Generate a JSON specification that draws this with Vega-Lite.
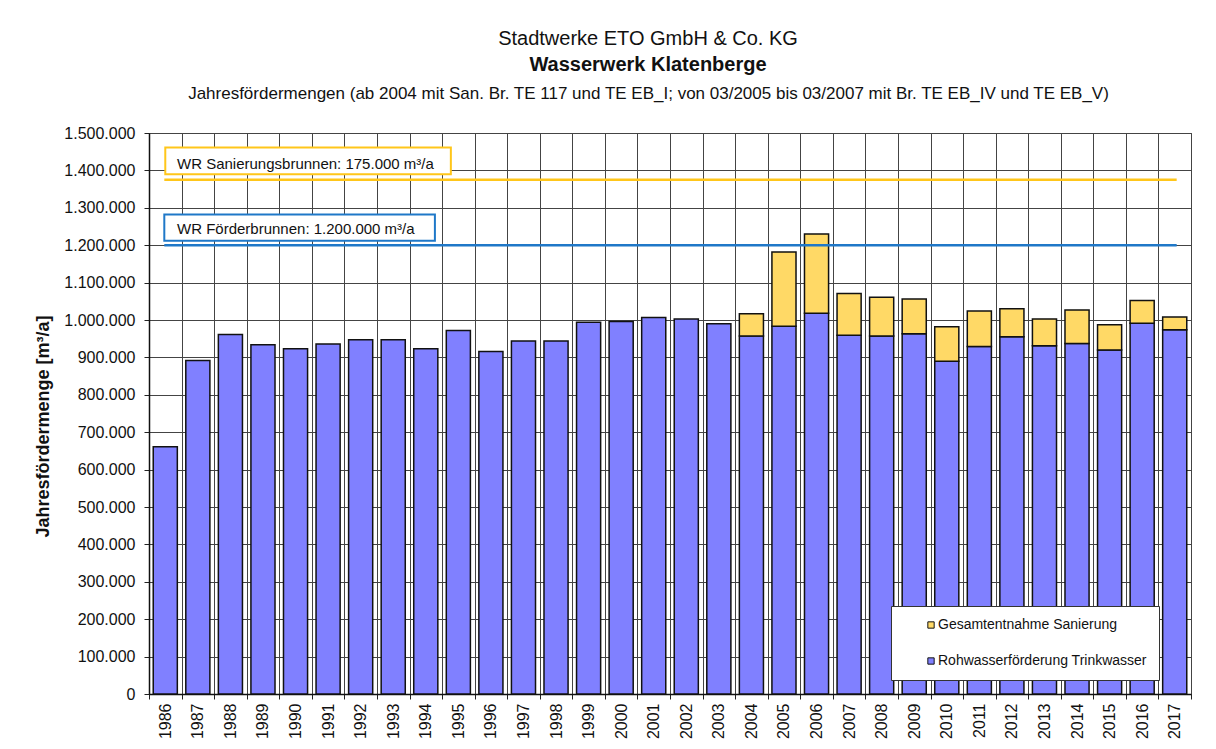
{
  "$schema": "https://vega.github.io/schema/vega-lite/v6.json",
  "autosize": {"type": "none"},
  "padding": {"left": 149, "top": 133, "right": 25, "bottom": 55},
  "width": 1042,
  "height": 561,
  "background": "white",
  "config": {
    "font": "Liberation Sans",
    "view": {"stroke": "#333333", "strokeWidth": 1},
    "locale": {"number": {"decimal": ",", "thousands": ".", "grouping": [3], "currency": ["", " €"]}},
    "axisY": {
      "tickCount": 15, "format": ",d", "labelFontSize": 16, "labelColor": "#111111", "labelPadding": 9,
      "labelOverlap": false, "labelFlush": false, "labelBound": false,
      "tickSize": 5, "tickColor": "#222222", "grid": true, "gridColor": "#444444", "gridWidth": 1,
      "domainColor": "#111111", "domainWidth": 1.5,
      "titleFontSize": 18, "titleFontWeight": "bold", "titleColor": "#111111", "titlePadding": 11, "titleY": 293
    }
  },
  "title": {
    "text": "Stadtwerke ETO GmbH & Co. KG",
    "subtitle": "Wasserwerk Klatenberge",
    "fontSize": 20,
    "fontWeight": "normal",
    "color": "#111111",
    "subtitleFontSize": 20,
    "subtitleFontWeight": "bold",
    "subtitleColor": "#111111",
    "subtitlePadding": 6,
    "anchor": "middle",
    "frame": "group",
    "dx": -22,
    "offset": 9
  },
  "resolve": {"scale": {"x": "independent"}},
  "layer": [
    {
      "data": {"values": [
        {"year": "1986", "series": "Rohwasserförderung Trinkwasser", "value": 661000},
        {"year": "1987", "series": "Rohwasserförderung Trinkwasser", "value": 892000},
        {"year": "1988", "series": "Rohwasserförderung Trinkwasser", "value": 961000},
        {"year": "1989", "series": "Rohwasserförderung Trinkwasser", "value": 934000},
        {"year": "1990", "series": "Rohwasserförderung Trinkwasser", "value": 923000},
        {"year": "1991", "series": "Rohwasserförderung Trinkwasser", "value": 936000},
        {"year": "1992", "series": "Rohwasserförderung Trinkwasser", "value": 947000},
        {"year": "1993", "series": "Rohwasserförderung Trinkwasser", "value": 947000},
        {"year": "1994", "series": "Rohwasserförderung Trinkwasser", "value": 923000},
        {"year": "1995", "series": "Rohwasserförderung Trinkwasser", "value": 972000},
        {"year": "1996", "series": "Rohwasserförderung Trinkwasser", "value": 916000},
        {"year": "1997", "series": "Rohwasserförderung Trinkwasser", "value": 944000},
        {"year": "1998", "series": "Rohwasserförderung Trinkwasser", "value": 944000},
        {"year": "1999", "series": "Rohwasserförderung Trinkwasser", "value": 994000},
        {"year": "2000", "series": "Rohwasserförderung Trinkwasser", "value": 996000},
        {"year": "2001", "series": "Rohwasserförderung Trinkwasser", "value": 1007000},
        {"year": "2002", "series": "Rohwasserförderung Trinkwasser", "value": 1003000},
        {"year": "2003", "series": "Rohwasserförderung Trinkwasser", "value": 990000},
        {"year": "2004", "series": "Rohwasserförderung Trinkwasser", "value": 957000},
        {"year": "2005", "series": "Rohwasserförderung Trinkwasser", "value": 983000},
        {"year": "2006", "series": "Rohwasserförderung Trinkwasser", "value": 1018000},
        {"year": "2007", "series": "Rohwasserförderung Trinkwasser", "value": 959000},
        {"year": "2008", "series": "Rohwasserförderung Trinkwasser", "value": 957000},
        {"year": "2009", "series": "Rohwasserförderung Trinkwasser", "value": 963000},
        {"year": "2010", "series": "Rohwasserförderung Trinkwasser", "value": 890000},
        {"year": "2011", "series": "Rohwasserförderung Trinkwasser", "value": 929000},
        {"year": "2012", "series": "Rohwasserförderung Trinkwasser", "value": 955000},
        {"year": "2013", "series": "Rohwasserförderung Trinkwasser", "value": 931000},
        {"year": "2014", "series": "Rohwasserförderung Trinkwasser", "value": 937000},
        {"year": "2015", "series": "Rohwasserförderung Trinkwasser", "value": 920000},
        {"year": "2016", "series": "Rohwasserförderung Trinkwasser", "value": 991000},
        {"year": "2017", "series": "Rohwasserförderung Trinkwasser", "value": 974000},
        {"year": "2004", "series": "Gesamtentnahme Sanierung", "value": 60000},
        {"year": "2005", "series": "Gesamtentnahme Sanierung", "value": 199000},
        {"year": "2006", "series": "Gesamtentnahme Sanierung", "value": 212000},
        {"year": "2007", "series": "Gesamtentnahme Sanierung", "value": 112000},
        {"year": "2008", "series": "Gesamtentnahme Sanierung", "value": 104000},
        {"year": "2009", "series": "Gesamtentnahme Sanierung", "value": 93000},
        {"year": "2010", "series": "Gesamtentnahme Sanierung", "value": 92000},
        {"year": "2011", "series": "Gesamtentnahme Sanierung", "value": 95000},
        {"year": "2012", "series": "Gesamtentnahme Sanierung", "value": 75000},
        {"year": "2013", "series": "Gesamtentnahme Sanierung", "value": 72000},
        {"year": "2014", "series": "Gesamtentnahme Sanierung", "value": 90000},
        {"year": "2015", "series": "Gesamtentnahme Sanierung", "value": 67000},
        {"year": "2016", "series": "Gesamtentnahme Sanierung", "value": 61000},
        {"year": "2017", "series": "Gesamtentnahme Sanierung", "value": 34000}
      ]},
      "mark": {"type": "bar", "stroke": "#111111", "strokeWidth": 1.5, "width": {"band": 0.74}},
      "encoding": {
        "x": {
          "field": "year", "type": "ordinal",
          "scale": {"paddingInner": 0, "paddingOuter": 0},
          "axis": {
            "title": null, "orient": "bottom", "labelAngle": -90, "labelFontSize": 16, "labelColor": "#111111",
            "labelPadding": 4, "tickSize": 5, "tickColor": "#222222", "tickBand": "extent",
            "grid": true, "gridColor": "#444444", "gridWidth": 1, "domainColor": "#111111", "domainWidth": 1.5
          }
        },
        "y": {
          "field": "value", "type": "quantitative", "stack": "zero",
          "scale": {"domain": [0, 1500000], "nice": false},
          "title": "Jahresfördermenge [m³/a]"
        },
        "color": {
          "field": "series", "type": "nominal",
          "scale": {"domain": ["Gesamtentnahme Sanierung", "Rohwasserförderung Trinkwasser"], "range": ["#FFD966", "#8080FF"]},
          "legend": {
            "title": null, "orient": "none", "legendX": 742, "legendY": 473, "fillColor": "white", "strokeColor": "#333333",
            "padding": 12, "symbolType": "square", "symbolSize": 40, "symbolStrokeColor": "#111111", "symbolStrokeWidth": 1,
            "symbolOffset": 21, "labelFontSize": 14, "labelColor": "#111111", "labelOffset": 0, "rowPadding": 22,
            "labelLimit": 500
          }
        },
        "order": {"field": "series", "sort": "descending"}
      }
    },
    {
      "data": {"values": [{"label": "WR Förderbrunnen: 1.200.000 m³/a", "limit": 1200000}]},
      "mark": {"type": "rule", "stroke": "#1F78C8", "strokeWidth": 2.5},
      "encoding": {
        "x": {
          "datum": 0.47, "type": "quantitative",
          "scale": {"domain": [0, 32], "nice": false, "zero": false},
          "axis": {
            "orient": "top", "title": "Jahresfördermengen (ab 2004 mit San. Br. TE 117 und TE EB_I; von 03/2005 bis 03/2007 mit Br. TE EB_IV  und TE EB_V)",
            "labels": false, "ticks": false, "domain": false, "grid": false,
            "titleFontSize": 17, "titleFontWeight": "normal", "titleColor": "#111111", "titlePadding": 31, "titleX": 499
          }
        },
        "x2": {"datum": 31.56},
        "y": {"field": "limit", "type": "quantitative", "title": "Jahresfördermenge [m³/a]"}
      }
    },
    {
      "data": {"values": [{"label": "WR Sanierungsbrunnen:  175.000 m³/a", "limit": 1375000}]},
      "mark": {"type": "rule", "stroke": "#FFC61A", "strokeWidth": 2.5},
      "encoding": {
        "x": {"datum": 0.47, "type": "quantitative", "scale": {"domain": [0, 32], "nice": false, "zero": false}, "axis": null},
        "x2": {"datum": 31.56},
        "y": {"field": "limit", "type": "quantitative", "title": "Jahresfördermenge [m³/a]"}
      }
    },
    {
      "data": {"values": [{"label": "WR Förderbrunnen: 1.200.000 m³/a", "limit": 1200000}]},
      "mark": {"type": "rect", "fill": "white", "stroke": "#1F78C8", "strokeWidth": 2},
      "encoding": {
        "x": {"datum": 0.47, "type": "quantitative", "scale": {"domain": [0, 32], "nice": false, "zero": false}, "axis": null},
        "x2": {"datum": 8.78},
        "y": {"datum": 1212000, "type": "quantitative", "title": "Jahresfördermenge [m³/a]"},
        "y2": {"datum": 1282000}
      }
    },
    {
      "data": {"values": [{"label": "WR Sanierungsbrunnen:  175.000 m³/a", "limit": 1375000}]},
      "mark": {"type": "rect", "fill": "white", "stroke": "#FFC61A", "strokeWidth": 2},
      "encoding": {
        "x": {"datum": 0.5, "type": "quantitative", "scale": {"domain": [0, 32], "nice": false, "zero": false}, "axis": null},
        "x2": {"datum": 9.27},
        "y": {"datum": 1390000, "type": "quantitative", "title": "Jahresfördermenge [m³/a]"},
        "y2": {"datum": 1461000}
      }
    },
    {
      "data": {"values": [
        {"label": "WR Förderbrunnen: 1.200.000 m³/a", "limit": 1200000, "pos": 1242000},
        {"label": "WR Sanierungsbrunnen:  175.000 m³/a", "limit": 1375000, "pos": 1417000}
      ]},
      "mark": {"type": "text", "align": "left", "baseline": "middle", "fontSize": 15, "color": "#111111"},
      "encoding": {
        "x": {"datum": 0.86, "type": "quantitative", "scale": {"domain": [0, 32], "nice": false, "zero": false}, "axis": null},
        "y": {"field": "pos", "type": "quantitative", "title": "Jahresfördermenge [m³/a]"},
        "text": {"field": "label", "type": "nominal"}
      }
    }
  ]
}
